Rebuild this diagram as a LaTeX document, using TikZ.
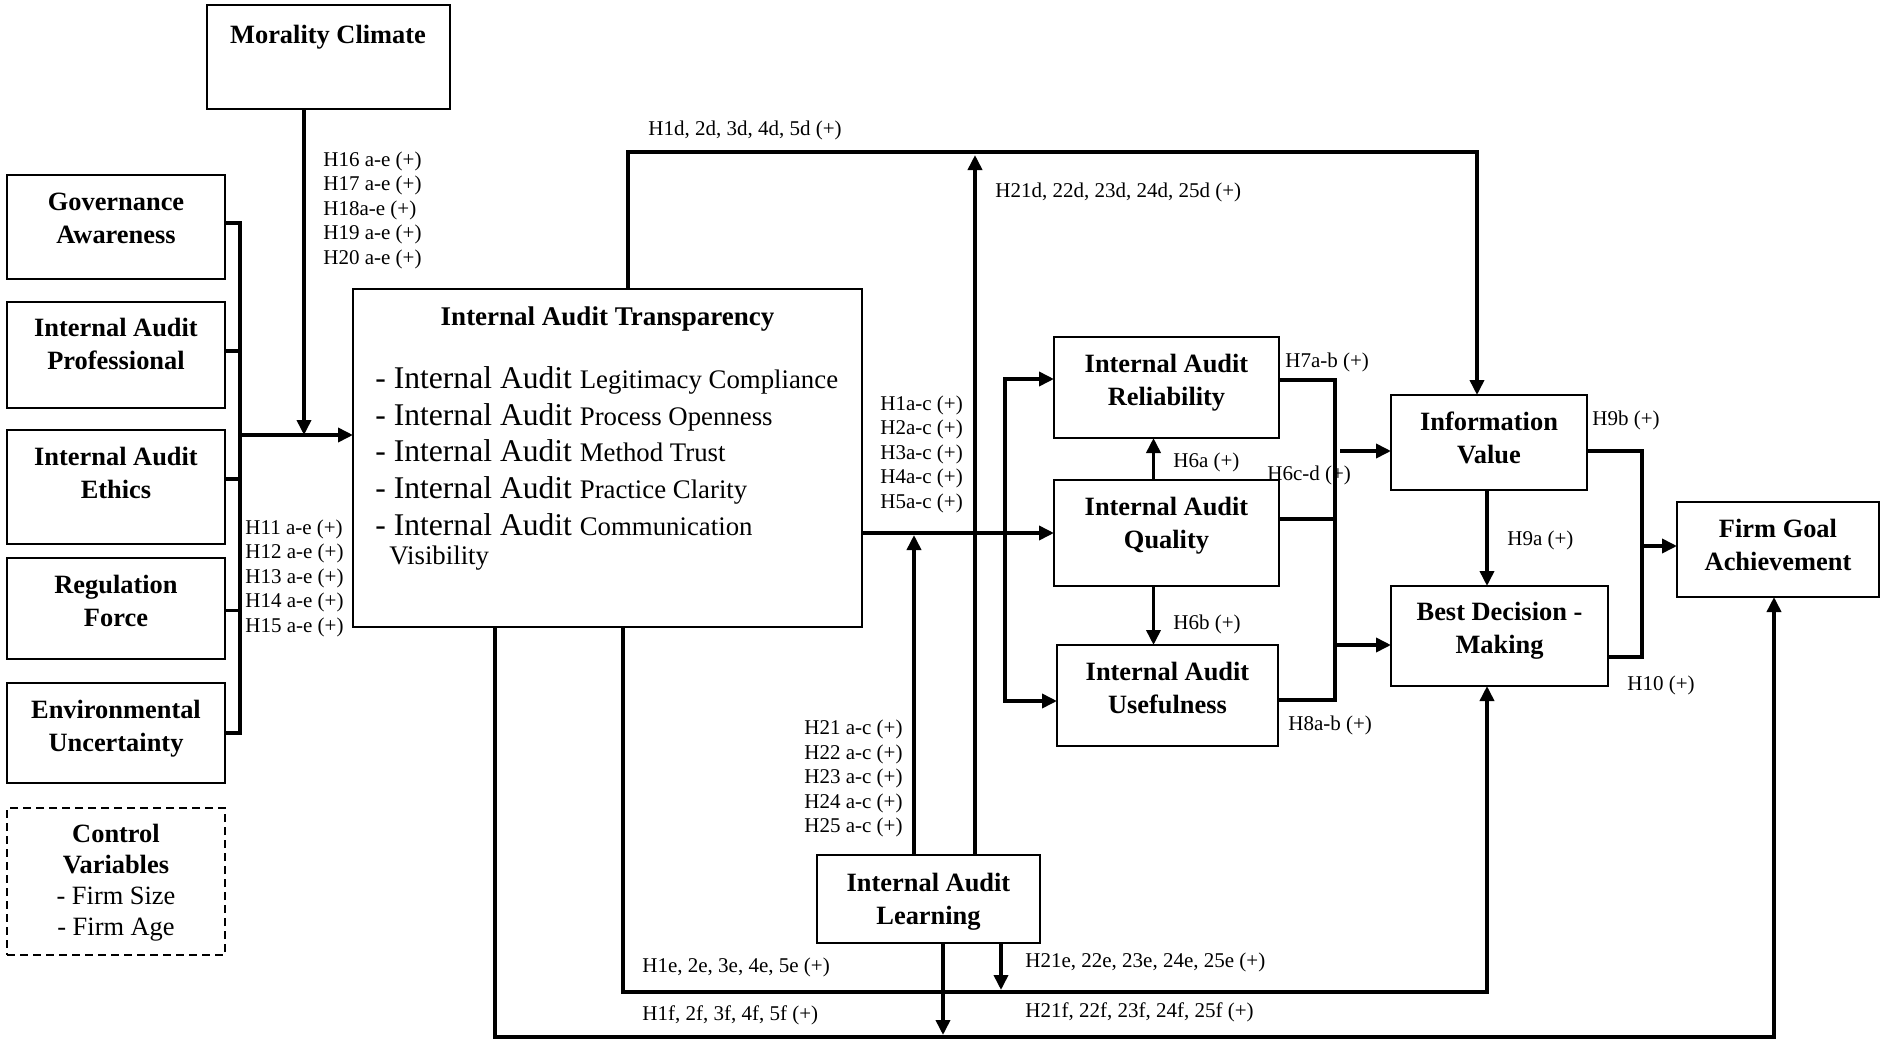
\documentclass[tikz,border=0pt]{standalone}
\usepackage{fontspec}
\setmainfont{Liberation Serif}
\usetikzlibrary{arrows.meta,fit}
\begin{document}
\begin{tikzpicture}[x=0.5pt,y=-0.5pt,
  box/.style={draw,line width=0.9pt,inner sep=0pt,outer sep=0pt},
  dbox/.style={box,dash pattern=on 4pt off 2.5pt},
  title/.style={font=\fontsize{13.2}{16.5}\selectfont\bfseries,align=center,inner sep=0pt,text depth=0pt},
  hyp/.style={font=\fontsize{10.5}{12.25}\selectfont,align=left,inner sep=0pt,anchor=west,text depth=0pt},
  item/.style={anchor=base west,inner sep=0pt},
  conn/.style={line width=1.8pt},
  arr/.style={conn,-{Triangle[length=7.5pt,width=7pt]}},
]
\useasboundingbox (0,0) rectangle (1881,1044);

% ---------- boxes ----------
\node[box,fit={(207,5) (450,109)}] (mc) {};
\node[box,fit={(7,175) (225,279)}] (gov) {};
\node[box,fit={(7,302) (225,408)}] (prof) {};
\node[box,fit={(7,430) (225,544)}] (eth) {};
\node[box,fit={(7,558) (225,659)}] (reg) {};
\node[box,fit={(7,683) (225,783)}] (env) {};
\node[dbox,fit={(7,808) (225,955)}] (ctrl) {};
\node[box,fit={(353,289) (862,627)}] (iat) {};
\node[box,fit={(1054,337) (1279,438)}] (rel) {};
\node[box,fit={(1054,480) (1279,586)}] (qual) {};
\node[box,fit={(1057,645) (1278,746)}] (use) {};
\node[box,fit={(1391,395) (1587,490)}] (iv) {};
\node[box,fit={(1391,586) (1608,686)}] (bdm) {};
\node[box,fit={(1677,502) (1879,597)}] (fga) {};
\node[box,fit={(817,855) (1040,943)}] (ial) {};

% ---------- box texts ----------
\node[title] (mc-t) at (328,34) {Morality Climate};
\node[title] (gov-t) at (116,218.5) {Governance\\Awareness};
\node[title] (prof-t) at (116,344) {Internal Audit\\Professional};
\node[title] (eth-t) at (116,473) {Internal Audit\\Ethics};
\node[title] (reg-t) at (116,600.5) {Regulation\\Force};
\node[title] (env-t) at (116,725.5) {Environmental\\Uncertainty};
\node[title,font=\fontsize{13.2}{15.4}\selectfont] (ctrl-t) at (116,880)
  {{\bfseries Control}\\{\bfseries Variables}\\- Firm Size\\- Firm Age};
\node[title,font=\fontsize{13.5}{16.5}\selectfont\bfseries] (iat-t) at (607.5,316) {Internal Audit Transparency};
\newcommand{\bigIA}{\fontsize{15.8}{18}\selectfont}
\newcommand{\smallIA}{\fontsize{13.4}{15}\selectfont}
\node[item] (iat1) at (375,388) {\bigIA - Internal Audit \smallIA Legitimacy Compliance};
\node[item] (iat2) at (375,425) {\bigIA - Internal Audit \smallIA Process Openness};
\node[item] (iat3) at (375,461) {\bigIA - Internal Audit \smallIA Method Trust};
\node[item] (iat4) at (375,498) {\bigIA - Internal Audit \smallIA Practice Clarity};
\node[item] (iat5) at (375,535) {\bigIA - Internal Audit \smallIA Communication};
\node[item] (iat6) at (389,564) {\smallIA Visibility};
\node[title] (rel-t) at (1166.5,379.5) {Internal Audit\\Reliability};
\node[title] (qual-t) at (1166.5,523) {Internal Audit\\Quality};
\node[title] (use-t) at (1167.5,687.5) {Internal Audit\\Usefulness};
\node[title] (iv-t) at (1489,437.5) {Information\\Value};
\node[title] (bdm-t) at (1499.5,628) {Best Decision -\\Making};
\node[title] (fga-t) at (1778,544.5) {Firm Goal\\Achievement};
\node[title] (ial-t) at (928.5,899) {Internal Audit\\Learning};

% ---------- antecedents into transparency ----------
\coordinate (busin) at (240,435);
\coordinate (mcout) at (304,109);
\draw[conn] ([yshift=2pt]gov.east) -- ++(15,0) |- (env.east);
\draw[conn] ([yshift=2pt]prof.east) -- ++(15,0);
\draw[conn] ([yshift=4pt]eth.east) -- ++(15,0);
\draw[conn] ([yshift=-1pt]reg.east) -- ++(15,0);
\draw[arr] (busin) -- (busin -| iat.west);
\draw[arr] (mcout) -- (mcout |- busin);

% ---------- transparency to the three audit outcomes ----------
\coordinate (brT) at (1005,379);
\coordinate (brB) at (1005,701);
\draw[arr] (iat.east |- qual.west) -- (qual.west);
\draw[arr] (brB) -- (brT) -- (brT -| rel.west);
\draw[arr] (brT) -- (brB) -- (brB -| use.west);
\draw[arr] ([xshift=-6.5pt]qual.north) -- ([xshift=-6.5pt]rel.south);
\draw[arr] ([xshift=-6.5pt]qual.south) -- ([xshift=-6.5pt]qual.south |- use.north);

% ---------- outcomes to value and decision ----------
\coordinate (rbT) at (1335,380);
\coordinate (rbQ) at (1335,519);
\coordinate (rbB) at (1335,700);
\coordinate (ivin) at (1340,451);
\coordinate (bdmin) at (1335,645);
\draw[conn] (rbT -| rel.east) -- (rbT) -- (rbB) -- (rbB -| use.east);
\draw[conn] (rbQ -| qual.east) -- (rbQ);
\draw[arr] (ivin) -- (ivin -| iv.west);
\draw[arr] (bdmin) -- (bdmin -| bdm.west);
\draw[arr] ([xshift=-1pt]iv.south) -- ([xshift=-1pt]iv.south |- bdm.north);

% ---------- value and decision to goal achievement ----------
\coordinate (fbT) at (1642,451);
\coordinate (fbM) at (1642,546);
\coordinate (fbB) at (1642,657);
\draw[conn] (fbT -| iv.east) -- (fbT) -- (fbB) -- (fbB -| bdm.east);
\draw[arr] (fbM) -- (fbM -| fga.west);

% ---------- direct paths from transparency ----------
\coordinate (topL) at (628,152);
\coordinate (topR) at (1477,152);
\draw[arr] (topL |- iat.north) -- (topL) -- (topR) -- (topR |- iv.north);
\coordinate (botE) at (623,992);
\coordinate (botE2) at (1487,992);
\draw[arr] (botE |- iat.south) -- (botE) -- (botE2) -- (botE2 |- bdm.south);
\coordinate (botF) at (495,1037);
\coordinate (botF2) at (1774,1037);
\draw[arr] (botF |- iat.south) -- (botF) -- (botF2) -- (botF2 |- fga.south);

% ---------- learning moderator ----------
\coordinate (lrnA) at (975,155);
\coordinate (lrnB) at (914,535);
\coordinate (lrnC) at (943,1035);
\coordinate (lrnD) at (1001,990);
\draw[arr] (lrnA |- ial.north) -- (lrnA);
\draw[arr] (lrnB |- ial.north) -- (lrnB);
\draw[arr] (lrnC |- ial.south) -- (lrnC);
\draw[arr] (lrnD |- ial.south) -- (lrnD);

% ---------- hypothesis labels ----------
\node[hyp] (h16) at (323,208) {H16 a-e (+)\\H17 a-e (+)\\H18a-e (+)\\H19 a-e (+)\\H20 a-e (+)};
\node[hyp] (h11) at (245,576) {H11 a-e (+)\\H12 a-e (+)\\H13 a-e (+)\\H14 a-e (+)\\H15 a-e (+)};
\node[hyp] (h1ac) at (880,452) {H1a-c (+)\\H2a-c (+)\\H3a-c (+)\\H4a-c (+)\\H5a-c (+)};
\node[hyp] (h21ac) at (804,776.5) {H21 a-c (+)\\H22 a-c (+)\\H23 a-c (+)\\H24 a-c (+)\\H25 a-c (+)};
\node[hyp] (h1d) at (648,128) {H1d, 2d, 3d, 4d, 5d (+)};
\node[hyp] (h21d) at (995,190) {H21d, 22d, 23d, 24d, 25d (+)};
\node[hyp] (h7) at (1285,360) {H7a-b (+)};
\node[hyp] (h6a) at (1173,460) {H6a (+)};
\node[hyp] (h6cd) at (1267,473) {H6c-d (+)};
\node[hyp] (h6b) at (1173,622) {H6b (+)};
\node[hyp] (h8) at (1288,723) {H8a-b (+)};
\node[hyp] (h9b) at (1592,418) {H9b (+)};
\node[hyp] (h9a) at (1507,538) {H9a (+)};
\node[hyp] (h10) at (1627,683) {H10 (+)};
\node[hyp] (h1e) at (642,965) {H1e, 2e, 3e, 4e, 5e (+)};
\node[hyp] (h1f) at (642,1013) {H1f, 2f, 3f, 4f, 5f (+)};
\node[hyp] (h21e) at (1025,960) {H21e, 22e, 23e, 24e, 25e (+)};
\node[hyp] (h21f) at (1025,1010) {H21f, 22f, 23f, 24f, 25f (+)};
\end{tikzpicture}
\end{document}
